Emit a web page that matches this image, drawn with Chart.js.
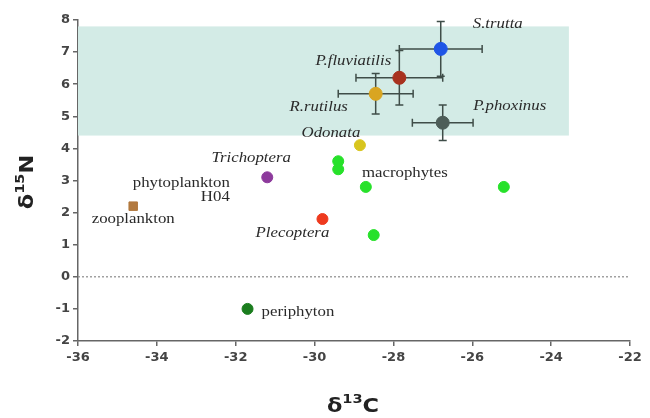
<!DOCTYPE html>
<html>
<head>
<meta charset="utf-8">
<script src="https://cdn.jsdelivr.net/npm/chart.js@4.4.1/dist/chart.umd.min.js"></script>
<style>
  html, body { margin: 0; padding: 0; background: #fff; }
  canvas { display: block; }
</style>
</head>
<body>
<canvas id="isoPlot" width="650" height="418"></canvas>
<script>
// fish species (mean ± SD)
const fishNames = ['S.trutta', 'P.fluviatilis', 'R.rutilus', 'P.phoxinus'];
const fishC = [-26.8, -27.85, -28.45, -26.75];
const fishN = [7.1, 6.2, 5.7, 4.8];
const fishCErr = [1.05, 1.1, 0.95, 0.77];
const fishNErr = [0.85, 0.85, 0.63, 0.55];
const fishColors = ['#1f55e6', '#a8321f', '#d9a521', '#4d5d58'];

// invertebrates
const invNames = ['Odonata', 'Trichoptera', 'Plecoptera'];
const invC = [-28.85, -31.2, -29.8];
const invN = [4.1, 3.1, 1.8];
const invColors = ['#d8c51e', '#8d3a9c', '#ee3a1e'];

// zooplankton
const zooC = [-34.6];
const zooN = [2.2];

// macrophytes
const macroC = [-29.4, -29.4, -28.7, -25.2, -28.5];
const macroN = [3.6, 3.35, 2.8, 2.8, 1.3];

// periphyton
const periC = [-31.7];
const periN = [-1.0];

// axis ticks
const xTicks = [-36, -34, -32, -30, -28, -26, -24, -22];
const yTicks = [-2, -1, 0, 1, 2, 3, 4, 5, 6, 7, 8];

// shaded range for fish
const bandC = [-36, -23.55];
const bandN = [4.4, 7.8];

function toPoints(xs, ys) {
    return xs.map((x, i) => ({ x: x, y: ys[i] }));
}

// text annotations: anchored on a data point, shifted in px
const notes = [
    { text: fishNames[0], x: fishC[0], y: fishN[0], dx: 57, dy: -25, italic: true },
    { text: fishNames[1], x: fishC[1], y: fishN[1], dx: -46, dy: -16, italic: true },
    { text: fishNames[2], x: fishC[2], y: fishN[2], dx: -57, dy: 13, italic: true },
    { text: fishNames[3], x: fishC[3], y: fishN[3], dx: 67, dy: -16, italic: true },
    { text: invNames[0], x: invC[0], y: invN[0], dx: -29, dy: -12, italic: true },
    { text: invNames[1], x: invC[1], y: invN[1], dx: -16, dy: -19, italic: true },
    { text: invNames[2], x: invC[2], y: invN[2], dx: -30, dy: 14, italic: true },
    { text: 'zooplankton', x: zooC[0], y: zooN[0], dx: 0, dy: 13 },
    { text: 'macrophytes', x: macroC[2], y: macroN[2], dx: 39, dy: -14 },
    { text: 'periphyton', x: periC[0], y: periN[0], dx: 14, dy: 3, align: 'left' },
    { text: 'phytoplankton', x: -32.15, y: 2.93, dx: 0, dy: 1, align: 'right' },
    { text: 'H04', x: -32.15, y: 2.93, dx: 0, dy: 15, align: 'right' }
];

// wide text: drawn with a horizontal stretch
function wideText(c, text, x, y, sx) {
    c.save();
    c.translate(x, y);
    c.scale(sx, 1);
    c.fillText(text, 0, 0);
    c.restore();
}

const extras = {
    id: 'extras',
    beforeDatasetsDraw(chart) {
        const c = chart.ctx;
        const xs = chart.scales.x, ys = chart.scales.y;
        const area = chart.chartArea;

        // shaded band
        c.save();
        c.fillStyle = '#d3ebe6';
        const bx0 = xs.getPixelForValue(bandC[0]), bx1 = xs.getPixelForValue(bandC[1]);
        const by0 = ys.getPixelForValue(bandN[1]), by1 = ys.getPixelForValue(bandN[0]);
        c.fillRect(bx0, by0, bx1 - bx0, by1 - by0);

        // dotted zero line
        const y0 = ys.getPixelForValue(0);
        c.strokeStyle = '#8a8a8a';
        c.lineWidth = 1.2;
        c.setLineDash([2, 2]);
        c.beginPath();
        c.moveTo(area.left, y0);
        c.lineTo(area.right, y0);
        c.stroke();
        c.setLineDash([]);

        // error bars
        c.strokeStyle = '#3f4d48';
        c.lineWidth = 1.5;
        const cap = 4;
        fishC.forEach((xv, i) => {
            const px = xs.getPixelForValue(xv), py = ys.getPixelForValue(fishN[i]);
            const l = xs.getPixelForValue(xv - fishCErr[i]), r = xs.getPixelForValue(xv + fishCErr[i]);
            const t = ys.getPixelForValue(fishN[i] + fishNErr[i]), b = ys.getPixelForValue(fishN[i] - fishNErr[i]);
            c.beginPath();
            c.moveTo(l, py); c.lineTo(r, py);
            c.moveTo(l, py - cap); c.lineTo(l, py + cap);
            c.moveTo(r, py - cap); c.lineTo(r, py + cap);
            c.moveTo(px, t); c.lineTo(px, b);
            c.moveTo(px - cap, t); c.lineTo(px + cap, t);
            c.moveTo(px - cap, b); c.lineTo(px + cap, b);
            c.stroke();
        });
        c.restore();
    },
    afterDraw(chart) {
        const c = chart.ctx;
        const xs = chart.scales.x, ys = chart.scales.y;
        const sx = 1.2;
        c.save();
        c.fillStyle = '#2a2a2a';
        c.textBaseline = 'middle';
        c.textAlign = 'left';
        notes.forEach(n => {
            c.font = (n.italic ? 'italic ' : '') + '14px "Liberation Serif", "Times New Roman", serif';
            const w = c.measureText(n.text).width * sx;
            const align = n.align || 'center';
            let px = xs.getPixelForValue(n.x) + n.dx;
            if (align === 'center') px -= w / 2;
            if (align === 'right') px -= w;
            wideText(c, n.text, px, ys.getPixelForValue(n.y) + n.dy, sx);
        });

        // axis titles with superscripts
        const big = 'bold 20px "DejaVu Sans", "Liberation Sans", sans-serif';
        const small = 'bold 13px "DejaVu Sans", "Liberation Sans", sans-serif';
        const drawIso = (sup, el) => {
            c.font = big;
            const wD = c.measureText('δ').width;
            const wE = c.measureText(el).width;
            c.font = small;
            const wS = c.measureText(sup).width;
            const w = wD + wS + wE;
            c.scale(1.12, 1);
            const x = -w / 2;
            c.textAlign = 'left';
            c.textBaseline = 'alphabetic';
            c.font = big;
            c.fillText('δ', x, 8);
            c.font = small;
            c.fillText(sup, x + wD, -1);
            c.font = big;
            c.fillText(el, x + wD + wS, 8);
        };
        c.fillStyle = '#222';
        c.save();
        c.translate(353, 404);
        drawIso('13', 'C');
        c.restore();
        c.save();
        c.translate(25, 182);
        c.rotate(-Math.PI / 2);
        drawIso('15', 'N');
        c.restore();
        c.restore();
    }
};

const tickFont = { family: '"DejaVu Sans", "Liberation Sans", sans-serif', size: 13, weight: 'bold' };

new Chart(document.getElementById('isoPlot'), {
    type: 'scatter',
    data: {
        datasets: [
            {
                data: toPoints(fishC, fishN),
                backgroundColor: fishColors,
                borderColor: fishColors,
                pointRadius: 6.5
            },
            {
                data: toPoints(invC, invN),
                backgroundColor: invColors,
                borderColor: invColors,
                pointRadius: 5.5
            },
            {
                data: toPoints(zooC, zooN),
                backgroundColor: '#b2793f',
                borderColor: '#b2793f',
                pointStyle: 'rect',
                pointRadius: 6
            },
            {
                data: toPoints(macroC, macroN),
                backgroundColor: '#27e12a',
                borderColor: '#27e12a',
                pointRadius: 5.5
            },
            {
                data: toPoints(periC, periN),
                backgroundColor: '#1b7d1e',
                borderColor: '#1b7d1e',
                pointRadius: 5.5
            }
        ]
    },
    options: {
        responsive: false,
        animation: false,
        layout: { padding: { top: 20, right: 20, left: 0, bottom: 0 } },
        plugins: { legend: { display: false }, tooltip: { enabled: false } },
        scales: {
            x: {
                type: 'linear',
                min: -36,
                max: -22,
                afterBuildTicks: s => { s.ticks = xTicks.map(v => ({ value: v })); },
                afterFit: s => { s.height = 77; },
                ticks: { font: tickFont, color: '#444', padding: 4 },
                grid: { drawOnChartArea: false, tickLength: 5, color: '#666', lineWidth: 1.5 },
                border: { color: '#666', width: 1.5 }
            },
            y: {
                type: 'linear',
                min: -2,
                max: 8,
                afterBuildTicks: s => { s.ticks = yTicks.map(v => ({ value: v })); },
                afterFit: s => { s.width = 78; },
                ticks: { font: tickFont, color: '#444', padding: 3 },
                grid: { drawOnChartArea: false, tickLength: 5, color: '#666', lineWidth: 1.5 },
                border: { color: '#666', width: 1.5 }
            }
        }
    },
    plugins: [extras]
});
</script>
</body>
</html>
